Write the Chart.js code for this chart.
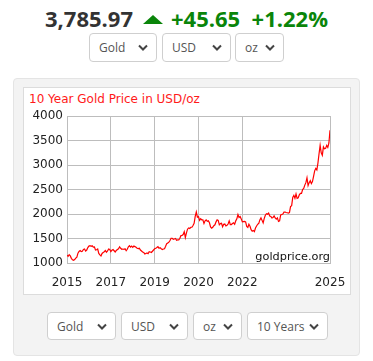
<!DOCTYPE html>
<html>
<head>
<meta charset="utf-8">
<script src="https://cdn.jsdelivr.net/npm/chart.js@4"></script>
<style>
  html, body { margin:0; padding:0; background:#fff; }
  body { width:373px; height:361px; position:relative; overflow:hidden; font-family:'Open Sans', sans-serif; }
  .quote { position:absolute; top:0; left:0; width:373px; text-align:center; white-space:nowrap;
           font-weight:700; font-size:22px; line-height:36px; }
  .quote .price { color:#333; }
  .quote .chg { color:#0a850a; }
  .tri { display:inline-block; width:0; height:0; border-left:10px solid transparent;
         border-right:10px solid transparent; border-bottom:9px solid #0a850a; margin:0 8px 0 10px;
         vertical-align:3px; }
  select { position:absolute; appearance:none; -webkit-appearance:none; margin:0; box-sizing:border-box;
           border:1px solid #cfcfcf; border-radius:4px; background:#fff; color:#555;
           font-family:'Open Sans', sans-serif; font-size:12px; padding:0 0 0 9px; height:29px;
           background-image:url("data:image/svg+xml,%3Csvg xmlns='http://www.w3.org/2000/svg' width='10' height='7'%3E%3Cpath d='M1 1.5l4 4 4-4' fill='none' stroke='%23444' stroke-width='2'/%3E%3C/svg%3E");
           background-repeat:no-repeat; background-position:right 8px center; }
  .panel { position:absolute; left:13px; top:78px; width:347px; height:278px; background:#f3f3f3;
           border:1px solid #e4e4e4; border-radius:4px; box-sizing:border-box; }
  .box { position:absolute; left:23px; top:87px; width:328px; height:208px; background:#fff;
         border:1px solid #dcdcdc; box-sizing:border-box; }
  .title { position:absolute; left:29px; top:91px; color:#ff1a1a; font-family:'DejaVu Sans', sans-serif;
           font-size:12px; line-height:16px; }
  canvas { position:absolute; left:23px; top:87px; }
</style>
</head>
<body>
<div class="quote"><span class="price">3,785.97</span><span class="tri"></span><span class="chg">+45.65&nbsp;&nbsp;+1.22%</span></div>
<select style="left:89px;top:33px;width:68px"><option>Gold</option></select>
<select style="left:162px;top:33px;width:69px"><option>USD</option></select>
<select style="left:235px;top:33px;width:49px"><option>oz</option></select>

<div class="panel"></div>
<div class="box"></div>
<div class="title">10 Year Gold Price in USD/oz</div>
<canvas id="goldChart" width="327" height="207"></canvas>

<select style="left:47px;top:312px;width:69px;height:28px"><option>Gold</option></select>
<select style="left:121px;top:312px;width:67px;height:28px"><option>USD</option></select>
<select style="left:193px;top:312px;width:49px;height:28px"><option>oz</option></select>
<select style="left:247px;top:312px;width:81px;height:28px"><option>10 Years</option></select>

<script>
'use strict';

// ── Data (semi-monthly closes, Sep 2015 → Sep 2025, USD/oz) ──
const PRICES = [
  1160,1135, 1170,1145, 1095,1065, 1055,1070,                                   // 2015
  1100,1120, 1200,1235, 1255,1235, 1240,1275, 1285,1245, 1265,1315,
  1345,1355, 1340,1350, 1325,1330, 1265,1270, 1285,1195, 1165,1145,             // 2016
  1195,1215, 1230,1255, 1220,1245, 1285,1275, 1230,1260, 1275,1250,
  1225,1255, 1275,1290, 1330,1300, 1280,1285, 1280,1290, 1250,1280,             // 2017
  1330,1355, 1325,1345, 1320,1345, 1335,1320, 1300,1295, 1300,1265,
  1245,1225, 1215,1185, 1195,1205, 1190,1230, 1225,1215, 1240,1265,             // 2018
  1290,1300, 1315,1335, 1300,1310, 1290,1275, 1285,1290, 1340,1395,
  1410,1425, 1460,1505, 1505,1485, 1490,1500, 1465,1470, 1470,1505,             // 2019
  1560,1565, 1580,1640, 1520,1615, 1690,1715, 1705,1730, 1730,1765,
  1810,1950, 2040,1935, 1945,1870, 1905,1880, 1880,1805, 1860,1880,             // 2020
  1850,1860, 1820,1735, 1710,1730, 1760,1780, 1840,1880, 1870,1780,
  1805,1810, 1740,1790, 1795,1755, 1770,1795, 1860,1785, 1785,1805,             // 2021
  1820,1790, 1860,1900, 1990,1930, 1950,1900, 1840,1845, 1850,1840,
  1745,1725, 1790,1750, 1680,1650, 1665,1640, 1715,1755, 1790,1810,             // 2022
  1880,1920, 1870,1820, 1910,1975, 2005,1995, 2020,1960, 1950,1920,
  1930,1960, 1920,1895, 1920,1850, 1860,1980, 1990,2000, 2040,2040,             // 2023
  2030,2025, 2020,2030, 2150,2170, 2340,2380, 2320,2410, 2320,2330,
  2390,2420, 2420,2500, 2520,2590, 2640,2740, 2580,2640, 2680,2620,             // 2024
  2660,2770, 2880,2930, 2900,3040, 3230,3400, 3250,3200, 3370,3330,
  3340,3400, 3360,3450, 3710                                                    // 2025
];

// x is measured in months from the first point; gridlines fall every 20 months
const X_TICKS       = [0, 20, 40, 60, 80, 120];
const X_TICK_LABELS = ['2015', '2017', '2019', '2020', '2022', '2025'];
const Y_MIN = 1000, Y_MAX = 4000, Y_STEP = 500;

// ── Styles ─────────────────────────────────────────────────
const FONT  = { family: "'DejaVu Sans', Verdana, sans-serif", size: 12 };
const GRID  = '#bdbdbd';
const LINE  = '#ff0000';

// watermark inside the plot, bottom-right
const watermark = {
  id: 'watermark',
  afterDraw(chart) {
    const { ctx, chartArea } = chart;
    ctx.save();
    ctx.font = "11.3px 'DejaVu Sans', sans-serif";
    ctx.fillStyle = '#111';
    ctx.textAlign = 'right';
    ctx.textBaseline = 'alphabetic';
    ctx.fillText('goldprice.org', chartArea.right, chartArea.bottom - 3);
    ctx.restore();
  }
};

new Chart(document.getElementById('goldChart'), {
  type: 'line',
  data: {
    datasets: [{
      data: PRICES.map((v, i) => ({ x: i / 2, y: v })),
      borderColor: LINE,
      borderWidth: 1.2,
      pointRadius: 0,
      tension: 0,
    }]
  },
  options: {
    responsive: false,
    animation: false,
    devicePixelRatio: 1,
    layout: { padding: { top: 29, right: 20, left: 0, bottom: 0 } },
    plugins: { legend: { display: false }, tooltip: { enabled: false } },
    scales: {
      x: {
        type: 'linear', min: 0, max: 120,
        afterBuildTicks: s => { s.ticks = X_TICKS.map(v => ({ value: v })); },
        // fixed geometry: no extra room for label overhang
        afterFit: s => { s.height = 31; s.paddingLeft = 0; s.paddingRight = 0; },
        grid: { color: GRID, drawTicks: false },
        border: { color: GRID },
        ticks: {
          font: FONT, color: '#222', padding: 13, maxRotation: 0, autoSkip: false,
          callback: v => X_TICK_LABELS[X_TICKS.indexOf(v)],
        },
      },
      y: {
        min: Y_MIN, max: Y_MAX,
        afterFit: s => { s.width = 44; s.paddingTop = 0; s.paddingBottom = 0; },
        grid: { color: GRID, drawTicks: false },
        border: { color: GRID },
        ticks: { stepSize: Y_STEP, font: FONT, color: '#222', padding: 4, callback: v => String(v) },
      },
    }
  },
  plugins: [watermark]
});
</script>
</body>
</html>
